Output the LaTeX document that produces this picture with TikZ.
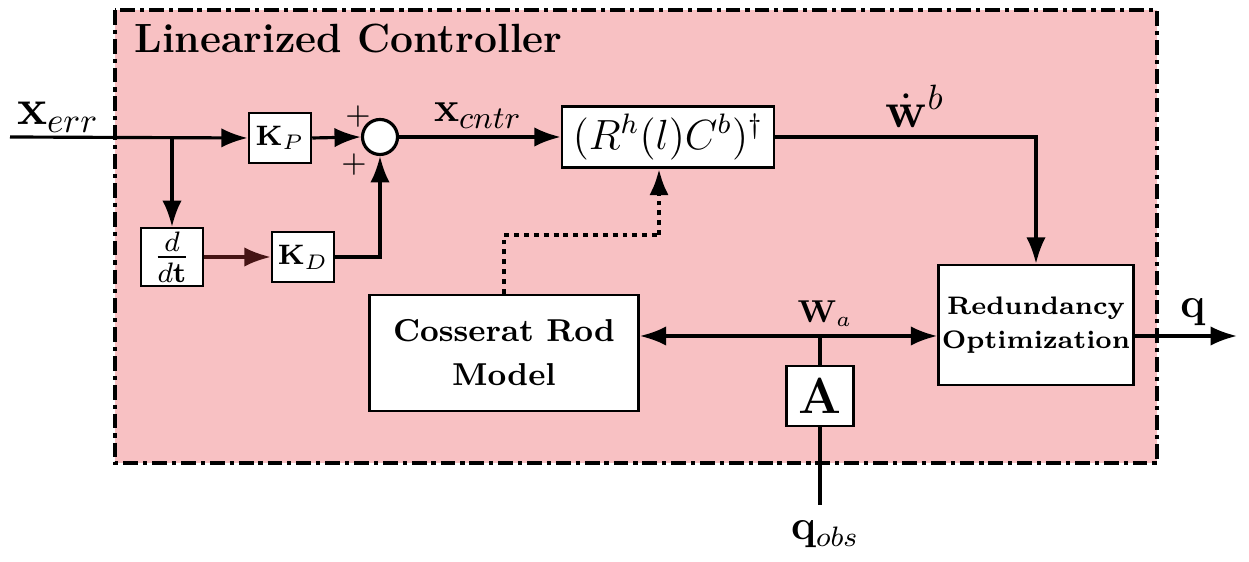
\documentclass[tikz,border=0pt]{standalone}
\usepackage{amsmath,amssymb}
\usepackage{xcolor}
\usetikzlibrary{arrows.meta,positioning,calc}
\definecolor{ctrlpink}{RGB}{248,193,195}
\definecolor{ddtred}{RGB}{70,20,20}

\begin{document}
\begin{tikzpicture}[x=0.01cm,y=-0.01cm,line width=0.9pt,>={Latex[length=7.5pt,width=5.5pt]},
  blk/.style={draw,fill=white,line width=0.7pt,inner sep=1pt},
  lbl/.style={anchor=base,inner sep=0pt},
  dotline/.style={line width=1.3pt,dash pattern=on 1.4pt off 1.4pt}]
\useasboundingbox (0,0) rectangle (1249,562);
\draw[line width=1.1pt,fill=ctrlpink,dash pattern=on 4.2pt off 1.4pt on 1.2pt off 1.4pt] (115,10) rectangle (1157,463);
\node[anchor=base west,inner sep=0pt,font=\fontsize{11.6}{14}\selectfont\bfseries] (ttl) at (133,53) {Linearized Controller};
% blocks
\node[blk,minimum width=0.62cm,minimum height=0.50cm] (kp) at (280,138) {\fontsize{8.5}{10}\selectfont$\mathbf{K}_P$};
\node[blk,minimum width=0.62cm,minimum height=0.50cm] (ddt) at (172,257) {\large$\frac{d}{d\mathbf{t}}$};
\node[blk,minimum width=0.62cm,minimum height=0.50cm] (kd) at (303,257) {\fontsize{8.5}{10}\selectfont$\mathbf{K}_D$};
\node[draw,fill=white,circle,line width=0.9pt,minimum size=0.35cm,inner sep=0pt] (sum) at (380,137) {};
\node[blk,minimum width=2.12cm,minimum height=0.61cm] (rmat) at (668,137) {\large$(R^h(l)C^b)^{\dagger}$};
\node[blk,minimum width=2.69cm,minimum height=1.16cm,align=center,font=\fontsize{9}{12.5}\selectfont\bfseries] (cos) at (504,353) {Cosserat Rod\\Model};
\node[blk,minimum width=1.94cm,minimum height=1.20cm,align=center,font=\fontsize{7.2}{9.5}\selectfont\bfseries] (red) at (1036,325) {Redundancy\\Optimization};
\node[blk,minimum width=0.67cm,minimum height=0.60cm] (abox) at (820,396) {\Large$\mathbf{A}$};
% points
\coordinate (in) at (10,137);
\coordinate (br) at (172,137);
\coordinate (dm) at (659,235);
\coordinate (wa) at (820,336);
\coordinate (qin) at (820,505);
\coordinate (out) at (1237,336);
% connectors
\draw[->] (in) -- (kp.west);
\draw[->] (br) -- (ddt.north);
\draw[->] (kp.east) -- (sum.west);
\draw[->,ddtred] (ddt.east) -- (kd.west);
\draw[->] (kd.east) -| (sum.south);
\draw[->] (sum.east) -- (rmat.west);
\draw[->] (rmat.east) -| (red.north);
\draw[dotline] (cos.north) |- (dm);
\draw[dotline,->] (dm) -- (dm |- rmat.south);
\draw[<->] (cos.east |- wa) -- (red.west |- wa);
\draw (wa) -- (abox.north);
\draw (abox.south) -- (qin);
\draw[->] (red.east |- out) -- (out);
% labels
\node[lbl] (xerr) at (58,125) {\Large$\mathbf{x}_{err}$};
\node[lbl] (xcntr) at (478,122) {\fontsize{13}{15}\selectfont$\mathbf{x}_{cntr}$};
\node[lbl] (wdot) at (915,128) {\Large$\dot{\mathbf{w}}^b$};
\node[lbl] (wlbl) at (825,323) {\fontsize{9}{11}\selectfont$\mathbf{W}_a$};
\node[lbl] (qlbl) at (1193,318) {\large$\mathbf{q}$};
\node[lbl] (qobs) at (825,540) {\large$\mathbf{q}_{obs}$};
\node[inner sep=0pt,font=\small] (pls1) at (358,117) {$+$};
\node[inner sep=0pt,font=\small] (pls2) at (354,165) {$+$};
\end{tikzpicture}
\end{document}
